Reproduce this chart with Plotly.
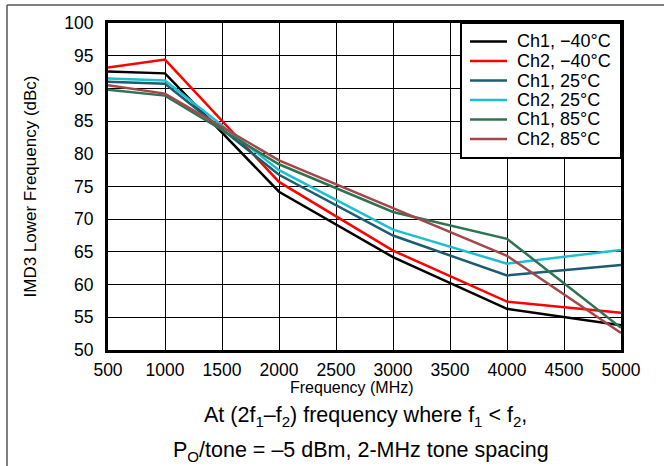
import plotly.graph_objects as go

freq = [500, 1000, 2000, 3000, 4000, 5000]
ch1_m40 = [92.6, 92.3, 74.2, 64.2, 56.3, 53.8]
ch2_m40 = [93.2, 94.4, 75.7, 65.2, 57.4, 55.7]
ch1_25 = [91.0, 90.7, 76.8, 67.5, 61.4, 63.0]
ch2_25 = [91.5, 91.2, 77.5, 68.4, 63.2, 65.3]
ch1_85 = [89.8, 88.9, 78.4, 71.1, 67.0, 53.4]
ch2_85 = [90.5, 89.2, 79.0, 71.7, 64.4, 52.6]

names = ["Ch1, \u221240\u00b0C", "Ch2, \u221240\u00b0C", "Ch1, 25\u00b0C",
         "Ch2, 25\u00b0C", "Ch1, 85\u00b0C", "Ch2, 85\u00b0C"]
series = [ch1_m40, ch2_m40, ch1_25, ch2_25, ch1_85, ch2_85]
colors = ["#000000", "#ff0000", "#1a5c72", "#1cbfd0", "#2e7352", "#a3474a"]

x_ticks = [500, 1000, 1500, 2000, 2500, 3000, 3500, 4000, 4500, 5000]
y_ticks = [50, 55, 60, 65, 70, 75, 80, 85, 90, 95, 100]

fig = go.Figure()
for n, s, c in zip(names, series, colors):
    fig.add_trace(go.Scatter(x=freq, y=s, mode="lines", name=n,
                             line=dict(color=c, width=2.5)))

FONT = "Liberation Sans, Arial, sans-serif"
W, H = 665, 466
L, R, T, B = 108, 44, 23, 116
pw, ph = W - L - R, H - T - B

def px(x):
    return (x - L) / pw

def py(y):
    return (H - B - y) / ph

shapes = [
    dict(type="line", xref="paper", yref="paper",
         x0=px(7), x1=px(664), y0=py(5), y1=py(5),
         line=dict(color="#555555", width=1.5)),
    dict(type="line", xref="paper", yref="paper",
         x0=px(7), x1=px(7), y0=py(5), y1=py(466),
         line=dict(color="#555555", width=1.5)),
    # legend box
    dict(type="rect", xref="paper", yref="paper",
         x0=px(461), x1=px(621), y0=py(23), y1=py(158),
         fillcolor="white", line=dict(color="black", width=2), layer="above"),
]
annotations = []
row_y = [41.5, 61, 80.5, 100, 119.5, 139]
for n, c, ry in zip(names, colors, row_y):
    shapes.append(dict(type="line", xref="paper", yref="paper",
                       x0=px(470), x1=px(507), y0=py(ry), y1=py(ry),
                       line=dict(color=c, width=2.5), layer="above"))
    annotations.append(dict(text=n, xref="paper", yref="paper",
                            x=px(515), y=py(ry), xanchor="left", yanchor="middle",
                            showarrow=False, font=dict(size=18, family=FONT)))

annotations += [
    dict(text="Frequency (MHz)", xref="paper", yref="paper",
         x=px(352), y=py(387), xanchor="center", yanchor="middle",
         showarrow=False, font=dict(size=16, family=FONT)),
    dict(text="At (2f<sub>1</sub>\u2013f<sub>2</sub>) frequency where f<sub>1</sub> &lt; f<sub>2</sub>,",
         xref="paper", yref="paper", x=px(365), y=py(416),
         xanchor="center", yanchor="middle", showarrow=False,
         font=dict(size=21.5, family=FONT)),
    dict(text="P<sub>O</sub>/tone = \u20135 dBm, 2-MHz tone spacing",
         xref="paper", yref="paper", x=px(361), y=py(452),
         xanchor="center", yanchor="middle", showarrow=False,
         font=dict(size=21.5, family=FONT)),
]

fig.update_layout(
    width=W, height=H,
    margin=dict(l=L, r=R, t=T, b=B),
    paper_bgcolor="white", plot_bgcolor="white",
    font=dict(family=FONT, size=15, color="black"),
    showlegend=False,
    xaxis=dict(range=[500, 5000], tickvals=x_ticks,
               showgrid=True, gridcolor="black", gridwidth=1,
               zeroline=False, showline=True, mirror=True,
               linecolor="black", linewidth=3, ticks="",
               tickfont=dict(size=17.5), ticklabelstandoff=2),
    yaxis=dict(range=[50, 100], tickvals=y_ticks,
               showgrid=True, gridcolor="black", gridwidth=1,
               zeroline=False, showline=True, mirror=True,
               linecolor="black", linewidth=3, ticks="",
               tickfont=dict(size=17.5), ticklabelstandoff=8,
               title=dict(text="IMD3 Lower Frequency (dBc)", font=dict(size=17), standoff=24)),
    shapes=shapes,
    annotations=annotations,
)

fig.write_html("out.html",
               config={"displayModeBar": False},
               post_script=["document.body.style.margin='0px';"
                            "document.body.style.overflow='hidden';"])
